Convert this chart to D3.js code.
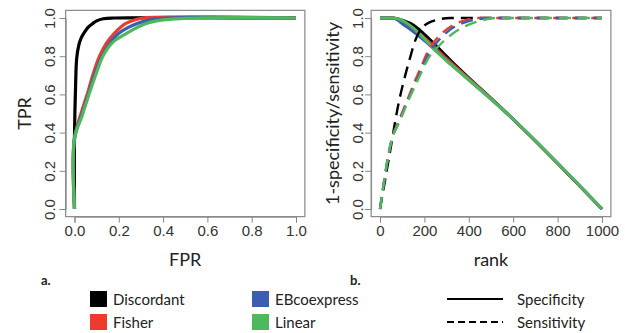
<!DOCTYPE html>
<html>
<head>
<meta charset="utf-8">
<script src="https://cdn.jsdelivr.net/npm/d3@7"></script>
<style>
  body { margin: 0; background: #fff; }
  .title { font-family: Lato, "Open Sans", sans-serif; font-size: 18px; fill: #222; }
  .legend { font-family: Lato, "Open Sans", sans-serif; font-size: 15px; fill: #222; }
  .ticklab { font-family: "Liberation Sans", Arial, sans-serif; font-size: 15px; fill: #333; }
</style>
</head>
<body>
<div id="chart"></div>
<script>
// methods and colours
var methods = ["Discordant", "Fisher", "EBcoexpress", "Linear"];
var colors = ["#000000", "#ec3b2c", "#3d5db0", "#4eb85c"];

// panel a: ROC curves (FPR / TPR)
var fprDiscordant = [0, 0, 0.005, 0.01, 0.02, 0.03, 0.045, 0.06, 0.083, 0.1, 0.13, 0.18, 1];
var tprDiscordant = [0, 0.38, 0.65, 0.79, 0.86, 0.895, 0.925, 0.95, 0.972, 0.985, 0.996, 1, 1];
var fprFisher = [0, 0, 0.035, 0.06, 0.085, 0.113, 0.145, 0.18, 0.23, 0.27, 0.31, 1];
var tprFisher = [0, 0.37, 0.52, 0.61, 0.71, 0.8, 0.87, 0.92, 0.97, 0.99, 1, 1];
var fprEB = [0, 0, 0.035, 0.065, 0.09, 0.12, 0.16, 0.2, 0.28, 0.34, 0.42, 1];
var tprEB = [0, 0.37, 0.5, 0.61, 0.7, 0.79, 0.87, 0.92, 0.97, 0.99, 1, 1];
var fprLinear = [0, 0, 0.035, 0.068, 0.095, 0.128, 0.17, 0.235, 0.32, 0.4, 0.55, 1];
var tprLinear = [0, 0.37, 0.49, 0.61, 0.7, 0.8, 0.87, 0.92, 0.97, 0.99, 1, 1];

// panel b: specificity (solid) by rank
var rankSpecDiscordant = [0, 57, 105, 150, 195, 240, 285, 330, 370, 600, 1000];
var specDiscordant = [1, 1, 0.986, 0.963, 0.92, 0.87, 0.817, 0.764, 0.72, 0.47, 0];
var rankSpecFisher = [0, 57, 110, 160, 210, 260, 310, 600, 1000];
var specFisher = [1, 1, 0.972, 0.935, 0.885, 0.83, 0.777, 0.47, 0];
var rankSpecEB = [0, 57, 110, 160, 210, 260, 300, 600, 1000];
var specEB = [1, 1, 0.962, 0.92, 0.872, 0.82, 0.778, 0.47, 0];
var rankSpecLinear = [0, 57, 300, 600, 1000];
var specLinear = [1, 1, 0.775, 0.47, 0];

// panel b: sensitivity (dashed) by rank
var rankSensDiscordant = [0, 57, 70, 85, 105, 135, 158, 195, 255, 315, 1000];
var sensDiscordant = [0, 0.38, 0.47, 0.56, 0.66, 0.79, 0.88, 0.955, 0.99, 1, 1];
var rankSensFisher = [0, 57, 80, 105, 130, 150, 180, 218, 270, 330, 390, 440, 1000];
var sensFisher = [0, 0.38, 0.45, 0.52, 0.59, 0.65, 0.73, 0.83, 0.91, 0.963, 0.99, 1, 1];
var rankSensEB = [0, 57, 80, 105, 130, 150, 180, 218, 270, 330, 390, 450, 500, 1000];
var sensEB = [0, 0.38, 0.44, 0.51, 0.58, 0.635, 0.71, 0.81, 0.89, 0.95, 0.98, 0.995, 1, 1];
var rankSensLinear = [0, 57, 80, 105, 130, 150, 180, 218, 270, 330, 390, 450, 520, 1000];
var sensLinear = [0, 0.38, 0.44, 0.505, 0.575, 0.625, 0.7, 0.79, 0.86, 0.92, 0.96, 0.985, 1, 1];

var yTicks = [0, 0.2, 0.4, 0.6, 0.8, 1.0];
var fprTicks = [0, 0.2, 0.4, 0.6, 0.8, 1.0];
var rankTicks = [0, 200, 400, 600, 800, 1000];

function zip(xs, ys) { return xs.map(function (x, i) { return [x, ys[i]]; }); }

var svg = d3.select("#chart").append("svg")
  .attr("width", 625).attr("height", 333);
svg.append("rect").attr("width", 625).attr("height", 333).attr("fill", "#fff");

// scales, R style 4% padding inside the box
var xa = d3.scaleLinear().domain([0, 1]).range([74.5, 296]);
var xb = d3.scaleLinear().domain([0, 1000]).range([380, 602]);
var y = d3.scaleLinear().domain([0, 1]).range([209, 18]);

function styleAxis(ax) {
  ax.attr("font-family", null).attr("font-size", null);
  ax.select(".domain").attr("stroke", "#888");
  ax.selectAll(".tick line").attr("stroke", "#888");
  ax.selectAll(".tick text").attr("class", "ticklab").attr("fill", null);
}

function panel(x, ticks, fmt, ylabX, ytitle, ytitleX, xtitle, letter, letterX) {
  var x0 = x.range()[0], x1 = x.range()[1];
  var pad = (x1 - x0) * 0.04;
  var g = svg.append("g");
  g.append("rect")
    .attr("x", x0 - pad).attr("y", 18 - 191 * 0.04)
    .attr("width", x1 - x0 + 2 * pad).attr("height", 191 * 1.08)
    .attr("fill", "none").attr("stroke", "#888").attr("stroke-width", 1.2);

  var xAxis = g.append("g")
    .attr("transform", "translate(0," + (209 + 191 * 0.04) + ")")
    .call(d3.axisBottom(x).tickValues(ticks).tickFormat(fmt).tickSize(6).tickPadding(3));
  styleAxis(xAxis);

  var yAxis = g.append("g")
    .attr("transform", "translate(" + (x0 - pad) + ",0)")
    .call(d3.axisLeft(y).tickValues(yTicks).tickFormat(d3.format(".1f")).tickSize(6));
  styleAxis(yAxis);
  yAxis.selectAll(".tick text")
    .attr("x", 0).attr("dy", null)
    .attr("transform", function () { return "translate(" + (ylabX - (x0 - pad)) + ",0) rotate(-90)"; })
    .attr("text-anchor", "middle")
    .attr("dominant-baseline", "central");

  svg.append("text").attr("class", "title")
    .attr("transform", "translate(" + ytitleX + "," + y(0.5) + ") rotate(-90)")
    .attr("text-anchor", "middle").attr("dominant-baseline", "central")
    .text(ytitle);
  svg.append("text").attr("class", "title")
    .attr("x", (x0 + x1) / 2).attr("y", 259)
    .attr("text-anchor", "middle").attr("dominant-baseline", "central")
    .text(xtitle);
  svg.append("text").attr("class", "legend")
    .attr("x", letterX).attr("y", 280)
    .attr("dominant-baseline", "central")
    .style("font-weight", "bold").style("font-size", "13px")
    .text(letter);
}

panel(xa, fprTicks, d3.format(".1f"), 49, "TPR", 24, "FPR", "a.", 41);
panel(xb, rankTicks, d3.format("d"), 357, "1-specificity/sensitivity", 332, "rank", "b.", 350);

// panel a curves
var rocData = [
  zip(fprDiscordant, tprDiscordant),
  zip(fprFisher, tprFisher),
  zip(fprEB, tprEB),
  zip(fprLinear, tprLinear)
];
var lineA = d3.line().x(function (d) { return xa(d[0]); }).y(function (d) { return y(d[1]); })
  .curve(d3.curveCatmullRom.alpha(0.5));
svg.append("g").selectAll("path")
  .data(rocData)
  .enter().append("path")
  .attr("d", lineA)
  .attr("fill", "none")
  .attr("stroke", function (d, i) { return colors[i]; })
  .attr("stroke-width", 3.2)
  .attr("stroke-linejoin", "round");

// panel b curves
var lineB = d3.line().x(function (d) { return xb(d[0]); }).y(function (d) { return y(d[1]); })
  .curve(d3.curveMonotoneX);
var specData = [
  zip(rankSpecDiscordant, specDiscordant),
  zip(rankSpecFisher, specFisher),
  zip(rankSpecEB, specEB),
  zip(rankSpecLinear, specLinear)
];
var sensData = [
  zip(rankSensDiscordant, sensDiscordant),
  zip(rankSensFisher, sensFisher),
  zip(rankSensEB, sensEB),
  zip(rankSensLinear, sensLinear)
];
var gb = svg.append("g");
gb.selectAll("path.spec")
  .data(specData)
  .enter().append("path").attr("class", "spec")
  .attr("d", lineB)
  .attr("fill", "none")
  .attr("stroke", function (d, i) { return colors[i]; })
  .attr("stroke-width", 3);
gb.selectAll("path.sens")
  .data(sensData)
  .enter().append("path").attr("class", "sens")
  .attr("d", lineB)
  .attr("fill", "none")
  .attr("stroke", function (d, i) { return colors[i]; })
  .attr("stroke-width", 2.4)
  .attr("stroke-dasharray", "12,7");

// legend: methods
var legPos = [[90, 299], [90, 322], [252, 299], [252, 322]];
var leg = svg.append("g");
methods.forEach(function (m, i) {
  leg.append("rect")
    .attr("x", legPos[i][0]).attr("y", legPos[i][1] - 8)
    .attr("width", 17).attr("height", 16)
    .attr("fill", colors[i]);
  leg.append("text").attr("class", "legend")
    .attr("x", legPos[i][0] + 23).attr("y", legPos[i][1])
    .attr("dominant-baseline", "central")
    .text(m);
});

// legend: line types
var lineTypes = ["Specificity", "Sensitivity"];
lineTypes.forEach(function (t, i) {
  var yy = i === 0 ? 299 : 322;
  leg.append("line")
    .attr("x1", 447).attr("x2", 503).attr("y1", yy).attr("y2", yy)
    .attr("stroke", "#000").attr("stroke-width", 2.2)
    .attr("stroke-dasharray", i === 0 ? null : "7,4");
  leg.append("text").attr("class", "legend")
    .attr("x", 517).attr("y", yy)
    .attr("dominant-baseline", "central")
    .text(t);
});
</script>
</body>
</html>
